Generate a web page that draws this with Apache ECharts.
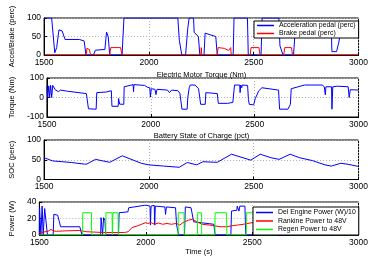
<!DOCTYPE html>
<html lang="en">
<head>
<meta charset="UTF-8">
<title>drive cycle</title>
<style>
  html, body { margin: 0; padding: 0; background: #fff; }
  #chart { width: 371px; height: 257px; }
</style>
</head>
<body>
<div id="chart"></div>
<script src="https://cdn.jsdelivr.net/npm/echarts@6/dist/echarts.min.js"></script>
<script>
// panel 1: pedals
var accelT = [1500, 1536, 1551, 1560, 1571, 1586, 1600, 1668, 1691, 1700, 1735, 1745, 1790, 1798, 1806, 1813, 1872, 1881, 2138, 2145, 2157, 2175, 2185, 2192, 2213, 2216, 2236, 2243, 2263, 2268, 2319, 2326, 2402, 2406, 2470, 2474, 2535, 2540, 2620, 2625, 2640, 2690, 2700, 2870, 2873, 2895, 2905, 2915, 2930, 3000];
var accelV = [100, 100, 6, 20, 68, 65, 42, 42, 38, 0, 0, 13, 15, 62, 50, 0, 0, 100, 100, 40, 0, 0, 70, 100, 100, 61, 50, 0, 0, 59, 50, 0, 0, 100, 100, 0, 0, 100, 100, 25, 0, 0, 85, 75, 9, 9, 32, 63, 90, 90];
var brakeT = [1500, 1702, 1704, 1710, 1716, 1722, 1813, 1818, 1865, 1872, 2248, 2250, 2252, 2326, 2330, 2360, 2380, 2390, 2393, 2483, 2487, 2525, 2530, 2643, 2648, 2680, 2685, 3000];
var brakeV = [0, 0, 18, 20, 15, 0, 0, 20, 20, 0, 0, 20, 0, 0, 20, 18, 12, 20, 0, 0, 20, 20, 0, 0, 20, 20, 0, 0];

// panel 2: motor torque
var torqueT = [1500, 1503, 1504, 1508, 1509, 1512, 1513, 1517, 1518, 1522, 1523, 1527, 1528, 1536, 1540, 1555, 1565, 1600, 1690, 1698, 1700, 1737, 1740, 1785, 1810, 1813, 1843, 1845, 1850, 1870, 1872, 1915, 1917, 1919, 1970, 1985, 1995, 1998, 2002, 2020, 2025, 2030, 2080, 2090, 2100, 2130, 2140, 2150, 2175, 2178, 2185, 2190, 2213, 2230, 2240, 2262, 2265, 2320, 2325, 2370, 2395, 2400, 2403, 2428, 2430, 2433, 2438, 2440, 2466, 2470, 2474, 2495, 2500, 2503, 2520, 2535, 2615, 2620, 2660, 2672, 2676, 2740, 2825, 2835, 2840, 2843, 2870, 2872, 2876, 2900, 2950, 2955, 2960, 3000];
var torqueV = [55, 55, 0, 0, 60, 60, 0, 0, 62, 55, 0, 0, 62, 60, 40, 30, 38, 32, 20, 18, -58, -60, 25, 28, 35, -45, -45, -5, -34, -35, 55, 66, 30, 66, 62, 52, 50, 2, 45, 42, 15, 42, 38, 25, 38, 35, 22, -60, -60, 0, 50, 64, 64, 45, -35, -35, 25, 20, -30, -30, -25, -20, 64, 64, 25, 64, 50, 64, 62, -10, -35, -38, -30, -5, 35, 50, 38, -60, -60, -35, 45, 64, 64, 55, 14, 55, 55, -60, 55, 58, 55, 0, 40, 38];

// panel 3: state of charge
var socT = [1500, 1541, 1586, 1631, 1692, 1704, 1745, 1813, 1873, 1964, 2000, 2070, 2145, 2183, 2228, 2258, 2326, 2394, 2425, 2486, 2531, 2583, 2621, 2674, 2719, 2779, 2840, 2870, 2915, 2945, 3000];
var socV = [55, 47, 45, 43, 39, 39, 51, 43.5, 60, 41, 37, 34, 31, 43, 37, 45, 43.5, 64, 59, 49, 64, 55, 51, 64, 55, 48, 37, 34, 41, 39, 33];

// panel 4: powers
var engT = [1500, 1501, 1506, 1507, 1512, 1513, 1517, 1518, 1524, 1525, 1533, 1536, 1538, 1565, 1568, 1586, 1592, 1600, 1690, 1700, 1788, 1790, 1795, 1797, 1800, 1802, 1808, 1812, 1872, 1875, 1916, 1920, 1995, 2000, 2005, 2020, 2022, 2025, 2040, 2042, 2045, 2090, 2093, 2097, 2140, 2145, 2155, 2182, 2186, 2213, 2225, 2320, 2326, 2400, 2403, 2428, 2430, 2436, 2438, 2442, 2466, 2470, 2535, 2538, 2618, 2622, 2695, 2700, 2868, 2872, 2905, 2910, 3000];
var engV = [0, 33, 34, 0, 0, 35, 33, 0, 0, 32, 30, 30, 0, 0, 25, 24, 18, 10, 10, 0, 0, 21, 20, 0, 0, 21, 18, 0, 0, 27, 28, 33, 36, 37, 36, 35, 12, 35, 36, 12, 35, 34, 25, 34, 33, 12, 0, 0, 34, 33, 16, 13, 0, 0, 29, 30, 35, 35, 29, 35, 35, 0, 0, 30, 28, 0, 0, 32, 33, 0, 0, 30, 30];
var rankT = [1500, 1520, 1545, 1555, 1565, 1580, 1620, 1690, 1720, 1800, 1900, 1918, 1935, 1960, 2000, 2010, 2025, 2040, 2060, 2080, 2100, 2120, 2145, 2160, 2175, 2200, 2220, 2240, 2265, 2300, 2326, 2350, 2380, 2400, 2430, 2460, 2500, 2540, 2600, 2660, 2720, 2800, 2880, 2950, 3000];
var rankV = [3, 3.5, 5, 7, 5, 4.5, 5, 5.5, 4, 3, 3, 4, 9, 11, 15, 14, 15, 13, 14.5, 13, 14, 13, 14, 12, 15, 18, 19, 16, 13, 12, 11, 10, 10, 11, 12, 13, 15, 14, 15, 13, 14, 15, 13, 14, 15];
var regenT = [1500, 1703, 1704, 1745, 1746, 1812, 1813, 1842, 1843, 1845, 1846, 1870, 1871, 2152, 2153, 2180, 2181, 2243, 2244, 2262, 2263, 2325, 2326, 2380, 2381, 2472, 2473, 2530, 2531, 2620, 2621, 2675, 2676, 2871, 2872, 2876, 2877, 3000];
var regenV = [0, 0, 27, 27, 0, 0, 27, 27, 0, 0, 27, 27, 0, 0, 27, 27, 0, 0, 27, 27, 0, 0, 27, 27, 0, 0, 27, 27, 0, 0, 27, 27, 0, 0, 27, 27, 0, 0];

var xTicks = [1500, 2000, 2500, 3000];

function pairs(t, v) {
    return t.map(function (x, i) { return [x, v[i]]; });
}

var font = 'Liberation Sans, Arial, sans-serif';
var panels = [
    {top: 18, height: 37, min: 0, max: 100, step: 50, name: 'Accel/Brake (perc)'},
    {top: 78, height: 39, min: -100, max: 100, step: 100, name: 'Torque (Nm)'},
    {top: 140, height: 39.5, min: 0, max: 100, step: 50, name: 'SOC (perc)'},
    {top: 202, height: 37, min: 0, max: 40, step: 20, name: 'Power (W)'}
];

var grids = [], xAxes = [], yAxes = [];
panels.forEach(function (p, i) {
    grids.push({left: 31, width: 331, top: p.top, height: p.height, show: true,
        borderColor: '#000', borderWidth: 1, backgroundColor: '#fff'});
    xAxes.push({
        type: 'value', gridIndex: i, min: xTicks[0], max: xTicks[xTicks.length - 1], interval: 500,
        axisLine: {show: true, onZero: false, lineStyle: {color: '#000', width: 1}},
        axisTick: {show: true, inside: true, length: 3, lineStyle: {color: '#000'}},
        axisLabel: {color: '#000', fontSize: 8.5, fontFamily: font, margin: 3,
            formatter: function (v) { return String(v); }},
        splitLine: {show: true, lineStyle: {color: '#b0b0b0', type: [1, 2], width: 1}},
        name: i === 3 ? 'Time (s)' : '', nameLocation: 'middle', nameGap: 13,
        nameTextStyle: {color: '#000', fontSize: 7.5, fontFamily: font}
    });
    yAxes.push({
        type: 'value', gridIndex: i, min: p.min, max: p.max, interval: p.step,
        axisLine: {show: true, onZero: false, lineStyle: {color: '#000', width: 1}},
        axisTick: {show: true, inside: true, length: 3, lineStyle: {color: '#000'}},
        axisLabel: {color: '#000', fontSize: 8.5, fontFamily: font, margin: 3},
        splitLine: {show: true, lineStyle: {color: '#b0b0b0', type: [1, 2], width: 1}},
        name: p.name, nameLocation: 'middle', nameGap: 18,
        nameTextStyle: {color: '#000', fontSize: 7.5, fontFamily: font}
    });
});

function line(name, t, v, color, idx) {
    return {
        name: name, type: 'line', xAxisIndex: idx, yAxisIndex: idx,
        data: pairs(t, v), showSymbol: false, symbol: 'none',
        lineStyle: {color: color, width: 1}, itemStyle: {color: color}
    };
}

var legendBase = {
    orient: 'vertical', icon: 'rect', itemWidth: 17, itemHeight: 1.5,
    backgroundColor: '#fff', borderColor: '#000', borderWidth: 1, borderRadius: 0,
    textStyle: {color: '#000', fontSize: 6.9, fontFamily: font}
};

var option = {
    animation: false,
    backgroundColor: '#fff',
    title: [
        {text: 'Electric Motor Torque (Nm)', left: 196.5, top: 66, textAlign: 'center',
            textStyle: {color: '#000', fontSize: 7.5, fontWeight: 'normal', fontFamily: font}},
        {text: 'Battery State of Charge (pct)', left: 196.5, top: 127, textAlign: 'center',
            textStyle: {color: '#000', fontSize: 7.5, fontWeight: 'normal', fontFamily: font}}
    ],
    grid: grids,
    xAxis: xAxes,
    yAxis: yAxes,
    legend: [
        Object.assign({}, legendBase, {data: ['Acceleration pedal (perc)', 'Brake pedal (perc)'],
            left: 254, top: 21, itemGap: 1, padding: [1, 3, 1, 3]}),
        Object.assign({}, legendBase, {data: ['Del Engine Power (W)/10', 'Rankine Power to 48V', 'Regen Power to 48V'],
            left: 253, top: 207, itemGap: 1.5, padding: [2, 3, 2, 3]})
    ],
    series: [
        line('Acceleration pedal (perc)', accelT, accelV, '#0000ff', 0),
        line('Brake pedal (perc)', brakeT, brakeV, '#ff0000', 0),
        line('Torque', torqueT, torqueV, '#0000ff', 1),
        line('SOC', socT, socV, '#0000ff', 2),
        line('Del Engine Power (W)/10', engT, engV, '#0000ff', 3),
        line('Rankine Power to 48V', rankT, rankV, '#ff0000', 3),
        line('Regen Power to 48V', regenT, regenV, '#00ff00', 3)
    ]
};

var myChart = echarts.init(document.getElementById('chart'));
myChart.setOption(option);
</script>
</body>
</html>
